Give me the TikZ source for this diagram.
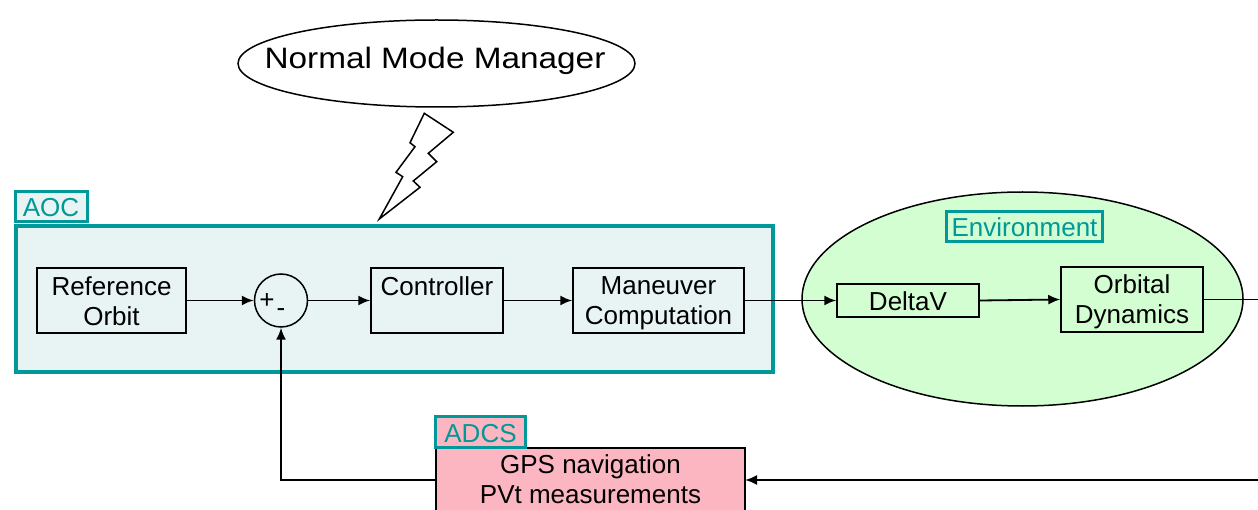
\documentclass[tikz,border=0pt]{standalone}
\usepackage{fontspec}
\setmainfont{Liberation Sans}
\usetikzlibrary{arrows.meta,shapes.geometric}
\definecolor{aocteal}{RGB}{0,152,152}
\definecolor{aocfill}{RGB}{232,244,244}
\definecolor{envfill}{RGB}{210,254,210}
\definecolor{adcsfill}{RGB}{252,182,193}
% uniform line strut so every text line sits on a fixed baseline grid
\newcommand\lnst{\rule[-4pt]{0pt}{28pt}}
\begin{document}
\begin{tikzpicture}[x=1pt,y=-1pt,
  txt/.style={font=\fontsize{26}{30}\selectfont, align=center, inner sep=0pt},
  blk/.style={draw=black, line width=1.5pt, inner sep=0pt, txt},
  tag/.style={draw=aocteal, line width=3pt, text=aocteal, inner sep=0pt, txt},
  arr/.style={line width=1.8pt, -{Latex[length=12pt,width=10pt]}},
  wire/.style={line width=1.8pt}]
\useasboundingbox (0,0) rectangle (1258,510);

% mode manager and its command bolt
\node (nmm) [ellipse, draw, line width=1.5pt, inner sep=0pt,
  minimum width=397pt, minimum height=87pt] at (436.5,63.5) {};
\node (nmmtext) [inner sep=0pt] at (435,60.5)
  {\scalebox{1.13}[1]{\fontsize{29.5}{34}\selectfont Normal Mode Manager}};
\draw[line width=1.5pt, line join=miter, fill=white]
  (424.3,113.3) -- (453.3,132.3) -- (428.3,153.3) -- (436.7,161.7)
  -- (413.3,181) -- (420,187.3) -- (379.3,219) -- (402.7,176.7)
  -- (396,172.3) -- (415,146.7) -- (410,142.7) -- cycle;

% AOC block
\node (aoc) [draw=aocteal, fill=aocfill, line width=4pt, inner sep=0pt,
  minimum width=757pt, minimum height=146pt] at (394.5,299) {};
\node (aoctag) [tag, fill=aocfill, minimum width=72pt, minimum height=30pt]
  at (51,207) {\lnst AOC};

\node (ref) [blk, minimum width=149pt, minimum height=65pt] at (111.5,300.5)
  {\lnst Reference\\\lnst Orbit};
\node (sum) [circle, draw, line width=1.5pt, inner sep=0pt,
  minimum size=53pt] at (281,300.5) {};
\node (plus) [txt] at (267,301) {+};
\node (minus) [txt] at (281,313) {-};
\node (ctrl) [blk, minimum width=132pt, minimum height=65pt] at (437,300.5)
  {\lnst Controller\\\lnst};
\node (man) [blk, minimum width=171pt, minimum height=65pt] at (658.5,300.5)
  {\lnst Maneuver\\\lnst Computation};

% environment
\node (env) [ellipse, draw, fill=envfill, line width=1.5pt, inner sep=0pt,
  minimum width=441pt, minimum height=214pt] at (1022.5,299) {};
\node (envtag) [tag, minimum width=156pt, minimum height=30pt]
  at (1024.5,226.5) {\lnst Environment};
\node (dv) [blk, minimum width=142pt, minimum height=33pt] at (908,300.5)
  {\lnst DeltaV};
\node (od) [blk, minimum width=142pt, minimum height=65pt] at (1132,299.5)
  {\lnst Orbital\\\lnst Dynamics};

% ADCS
\node (adcs) [draw, fill=adcsfill, line width=1.5pt, inner sep=0pt,
  minimum width=309pt, minimum height=82pt] at (590.5,489) {};
\node (adcstext) [txt] at (590.5,478)
  {\lnst GPS navigation\\\lnst PVt measurements};
\node (adcstag) [tag, fill=adcsfill, minimum width=90pt, minimum height=31pt]
  at (480.5,432) {\lnst ADCS};

% signal flow
\coordinate (odout) at (1265,299.5);
\coordinate (retin) at (1265,480);
\coordinate (adcsR) at (745,480);
\coordinate (adcsL) at (436,480);
\coordinate (fbcorner) at (281,480);

\draw[arr] (ref.east) -- (sum.west);
\draw[arr] (sum.east) -- (ctrl.west);
\draw[arr] (ctrl.east) -- (man.west);
\draw[arr] (man.east) -- (dv.west);
\draw[arr] (dv.east) -- (od.west);
\draw[wire] (od.east) -- (odout);
\draw[arr] (retin) -- (adcsR);
\draw[arr] (adcsL) -- (fbcorner) -- (sum.south);
\end{tikzpicture}
\end{document}
